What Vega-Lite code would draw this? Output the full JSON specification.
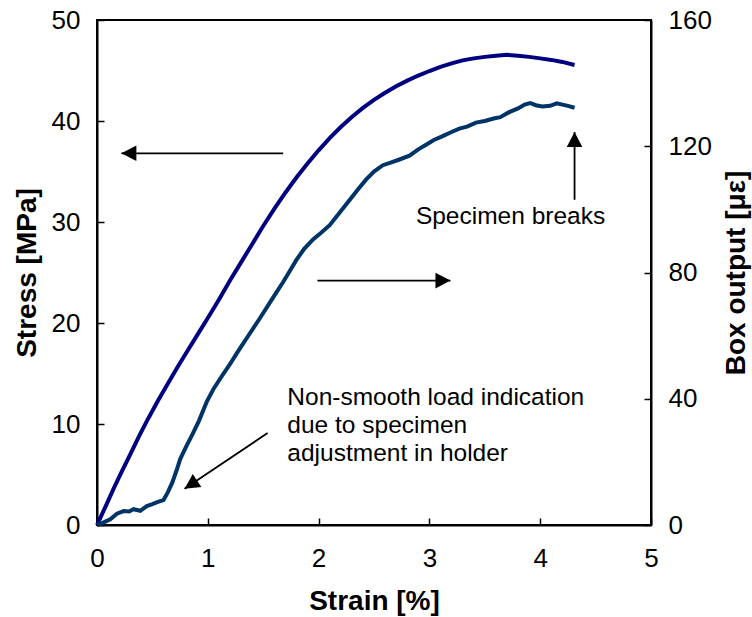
{
  "$schema": "https://vega.github.io/schema/vega-lite/v6.json",
  "width": 554,
  "height": 505,
  "autosize": "none",
  "padding": {"left": 97, "top": 20, "right": 101, "bottom": 92},
  "background": "white",
  "config": {
    "view": {"stroke": "black", "strokeWidth": 2},
    "axis": {
      "grid": false,
      "domainColor": "black",
      "domainWidth": 2,
      "tickColor": "black",
      "tickWidth": 1.5,
      "tickSize": -7,
      "labelFont": "Liberation Sans",
      "labelFontSize": 26,
      "labelColor": "black",
      "labelPadding": 24,
      "titleFont": "Liberation Sans",
      "titleFontSize": 28,
      "titleFontWeight": "bold",
      "titleColor": "black"
    }
  },
  "datasets": {
    "stress": [
      {"strain": 0.00, "stress": 0.0}, {"strain": 0.03, "stress": 0.7}, {"strain": 0.08, "stress": 1.9},
      {"strain": 0.15, "stress": 3.6}, {"strain": 0.22, "stress": 5.2}, {"strain": 0.30, "stress": 7.0},
      {"strain": 0.38, "stress": 8.8}, {"strain": 0.46, "stress": 10.5}, {"strain": 0.55, "stress": 12.3},
      {"strain": 0.64, "stress": 14.0}, {"strain": 0.73, "stress": 15.7}, {"strain": 0.82, "stress": 17.3},
      {"strain": 0.91, "stress": 18.9}, {"strain": 1.00, "stress": 20.5}, {"strain": 1.10, "stress": 22.3},
      {"strain": 1.20, "stress": 24.2}, {"strain": 1.30, "stress": 26.0}, {"strain": 1.40, "stress": 27.8},
      {"strain": 1.50, "stress": 29.6}, {"strain": 1.60, "stress": 31.3}, {"strain": 1.70, "stress": 32.9},
      {"strain": 1.80, "stress": 34.4}, {"strain": 1.90, "stress": 35.8}, {"strain": 2.00, "stress": 37.1},
      {"strain": 2.10, "stress": 38.3}, {"strain": 2.20, "stress": 39.4}, {"strain": 2.30, "stress": 40.4},
      {"strain": 2.40, "stress": 41.3}, {"strain": 2.50, "stress": 42.1}, {"strain": 2.60, "stress": 42.8},
      {"strain": 2.70, "stress": 43.45}, {"strain": 2.80, "stress": 44.0}, {"strain": 2.90, "stress": 44.5},
      {"strain": 3.00, "stress": 44.95}, {"strain": 3.10, "stress": 45.35}, {"strain": 3.20, "stress": 45.7},
      {"strain": 3.30, "stress": 46.0}, {"strain": 3.40, "stress": 46.2}, {"strain": 3.50, "stress": 46.35},
      {"strain": 3.60, "stress": 46.45}, {"strain": 3.70, "stress": 46.55}, {"strain": 3.80, "stress": 46.45},
      {"strain": 3.90, "stress": 46.35}, {"strain": 4.00, "stress": 46.2}, {"strain": 4.10, "stress": 46.05},
      {"strain": 4.20, "stress": 45.85}, {"strain": 4.31, "stress": 45.55}
    ],
    "box": [
      {"strain": 0.00, "box": 0.0}, {"strain": 0.03, "box": 0.3}, {"strain": 0.07, "box": 1.0},
      {"strain": 0.12, "box": 1.8}, {"strain": 0.18, "box": 3.6}, {"strain": 0.24, "box": 4.4},
      {"strain": 0.29, "box": 4.3}, {"strain": 0.33, "box": 5.0}, {"strain": 0.39, "box": 4.5},
      {"strain": 0.45, "box": 6.0}, {"strain": 0.50, "box": 6.6}, {"strain": 0.55, "box": 7.3},
      {"strain": 0.60, "box": 7.9}, {"strain": 0.64, "box": 10.4}, {"strain": 0.68, "box": 13.5},
      {"strain": 0.72, "box": 17.5}, {"strain": 0.75, "box": 20.8}, {"strain": 0.80, "box": 24.5},
      {"strain": 0.86, "box": 28.6}, {"strain": 0.92, "box": 33.0}, {"strain": 0.99, "box": 39.0},
      {"strain": 1.05, "box": 43.0}, {"strain": 1.12, "box": 46.8}, {"strain": 1.20, "box": 51.0},
      {"strain": 1.28, "box": 55.4}, {"strain": 1.37, "box": 60.2}, {"strain": 1.47, "box": 65.5},
      {"strain": 1.57, "box": 71.0}, {"strain": 1.68, "box": 77.0}, {"strain": 1.74, "box": 80.5},
      {"strain": 1.80, "box": 84.0}, {"strain": 1.87, "box": 87.5}, {"strain": 1.95, "box": 90.5},
      {"strain": 2.02, "box": 92.5}, {"strain": 2.10, "box": 95.0}, {"strain": 2.18, "box": 98.5},
      {"strain": 2.28, "box": 103.0}, {"strain": 2.36, "box": 106.5}, {"strain": 2.43, "box": 109.5},
      {"strain": 2.50, "box": 112.0}, {"strain": 2.58, "box": 114.0}, {"strain": 2.65, "box": 114.8},
      {"strain": 2.73, "box": 115.8}, {"strain": 2.82, "box": 117.0}, {"strain": 2.90, "box": 119.0},
      {"strain": 2.97, "box": 120.5}, {"strain": 3.04, "box": 122.0}, {"strain": 3.12, "box": 123.2},
      {"strain": 3.20, "box": 124.5}, {"strain": 3.27, "box": 125.6}, {"strain": 3.34, "box": 126.2},
      {"strain": 3.42, "box": 127.5}, {"strain": 3.50, "box": 128.0}, {"strain": 3.58, "box": 128.8},
      {"strain": 3.64, "box": 129.2}, {"strain": 3.72, "box": 130.8}, {"strain": 3.80, "box": 132.0},
      {"strain": 3.86, "box": 133.2}, {"strain": 3.91, "box": 133.7}, {"strain": 3.96, "box": 133.0},
      {"strain": 4.02, "box": 132.6}, {"strain": 4.09, "box": 132.8}, {"strain": 4.15, "box": 133.6},
      {"strain": 4.20, "box": 133.2}, {"strain": 4.25, "box": 132.8}, {"strain": 4.31, "box": 132.2}
    ],
    "arrows": [
      {"x1": 1.68, "y1": 36.8, "x2": 0.22, "y2": 36.8, "dir": "left"},
      {"x1": 1.99, "y1": 24.2, "x2": 3.19, "y2": 24.2, "dir": "right"},
      {"x1": 4.31, "y1": 32.2, "x2": 4.31, "y2": 38.9, "dir": "up"},
      {"x1": 1.54, "y1": 9.1, "x2": 0.79, "y2": 3.6, "dir": "diag"}
    ],
    "notes": [
      {"strain": 2.878, "stress": 29.8, "label": "Specimen breaks"},
      {"strain": 1.718, "stress": 11.9, "label": "Non-smooth load indication\ndue to specimen\nadjustment in holder"}
    ]
  },
  "layer": [
    {
      "layer": [
        {
          "data": {"name": "stress"},
          "mark": {"type": "line", "color": "#000080", "strokeWidth": 4},
          "encoding": {
            "x": {"field": "strain", "type": "quantitative", "title": "Strain [%]",
                  "scale": {"domain": [0, 5], "nice": false},
                  "axis": {"values": [0, 1, 2, 3, 4, 5], "format": "d", "labelFlush": false, "labelPadding": 27, "titleY": 84, "titleBaseline": "alphabetic"}},
            "y": {"field": "stress", "type": "quantitative", "title": "Stress [MPa]",
                  "scale": {"domain": [0, 50], "nice": false},
                  "axis": {"values": [0, 10, 20, 30, 40, 50], "format": "d", "titleX": -62, "titleAngle": 270, "titleBaseline": "alphabetic"}}
          }
        },
        {
          "data": {"name": "arrows"},
          "mark": {"type": "rule", "color": "black", "strokeWidth": 1.8},
          "encoding": {
            "x": {"field": "x1", "type": "quantitative", "title": "Strain [%]"},
            "x2": {"field": "x2"},
            "y": {"field": "y1", "type": "quantitative", "title": "Stress [MPa]"},
            "y2": {"field": "y2"}
          }
        },
        {
          "data": {"name": "arrows"},
          "mark": {"type": "point", "filled": true, "opacity": 1, "color": "black", "size": 900, "strokeWidth": 0},
          "encoding": {
            "x": {"field": "x2", "type": "quantitative", "title": "Strain [%]"},
            "y": {"field": "y2", "type": "quantitative", "title": "Stress [MPa]"},
            "shape": {"field": "dir", "type": "nominal", "legend": null,
                      "scale": {"domain": ["left", "right", "up", "diag"],
                                "range": ["M0,0L1,-0.52L1,0.52Z", "M0,0L-1,-0.52L-1,0.52Z", "M0,0L-0.52,1L0.52,1Z", "M0,0L1.121,-0.116L0.549,-0.984Z"]}}
          }
        },
        {
          "data": {"name": "notes"},
          "mark": {"type": "text", "align": "left", "baseline": "alphabetic", "font": "Liberation Sans", "fontSize": 24.5, "color": "black", "lineBreak": "\n", "lineHeight": 28},
          "encoding": {
            "x": {"field": "strain", "type": "quantitative", "title": "Strain [%]"},
            "y": {"field": "stress", "type": "quantitative", "title": "Stress [MPa]"},
            "text": {"field": "label", "type": "nominal"}
          }
        }
      ]
    },
    {
      "data": {"name": "box"},
      "mark": {"type": "line", "color": "#003366", "strokeWidth": 4},
      "encoding": {
        "x": {"field": "strain", "type": "quantitative", "title": "Strain [%]"},
        "y": {"field": "box", "type": "quantitative", "title": "Box output [με]",
              "scale": {"domain": [0, 160], "nice": false},
              "axis": {"orient": "right", "values": [0, 40, 80, 120, 160], "format": "d", "titleX": 93, "titleAngle": 270, "titleBaseline": "alphabetic"}}
      }
    }
  ],
  "resolve": {"scale": {"y": "independent"}}
}
